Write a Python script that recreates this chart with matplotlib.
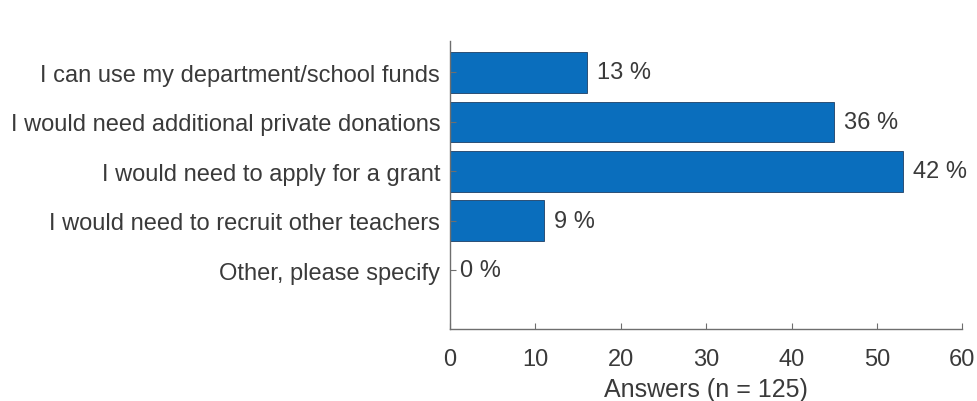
import matplotlib.pyplot as plt
import numpy as np

plt.rcParams["font.family"] = ["Liberation Sans", "DejaVu Sans"]

categories = [
    "I can use my department/school funds",
    "I would need additional private donations",
    "I would need to apply for a grant",
    "I would need to recruit other teachers",
    "Other, please specify",
]
answers = [16, 45, 53, 11, 0]
percent_labels = ["13 %", "36 %", "42 %", "9 %", "0 %"]
x_ticks = [0, 10, 20, 30, 40, 50, 60]

text_color = "#3a3a3a"
axis_color = "#6e6e6e"
bar_color = "#0a6ebd"

fig = plt.figure(figsize=(9.78, 4.02), dpi=100)
ax = fig.add_axes([0.460, 0.179, 0.524, 0.716])

y = np.arange(1, len(categories) + 1)
ax.barh(y, answers, height=0.82, color=bar_color, edgecolor="#1d3f66", linewidth=0.6)

for yi, val, lab in zip(y, answers, percent_labels):
    ax.text(val + 1.2, yi, lab, va="center", ha="left", fontsize=17, color=text_color)

ax.set_ylim(6.19, 0.37)
ax.set_xlim(0, 60)
ax.set_yticks(y)
ax.set_yticklabels(categories)
ax.set_xticks(x_ticks)
ax.set_xlabel("Answers (n = 125)", fontsize=18, color=text_color, labelpad=5)

for side in ["top", "right"]:
    ax.spines[side].set_visible(False)
for side in ["left", "bottom"]:
    ax.spines[side].set_color(axis_color)
    ax.spines[side].set_linewidth(1.0)

ax.tick_params(axis="both", direction="in", color=axis_color, labelcolor=text_color,
               labelsize=17, length=4)
ax.tick_params(axis="y", pad=7)
ax.tick_params(axis="x", pad=14)

fig.savefig("out.png", dpi=100)
